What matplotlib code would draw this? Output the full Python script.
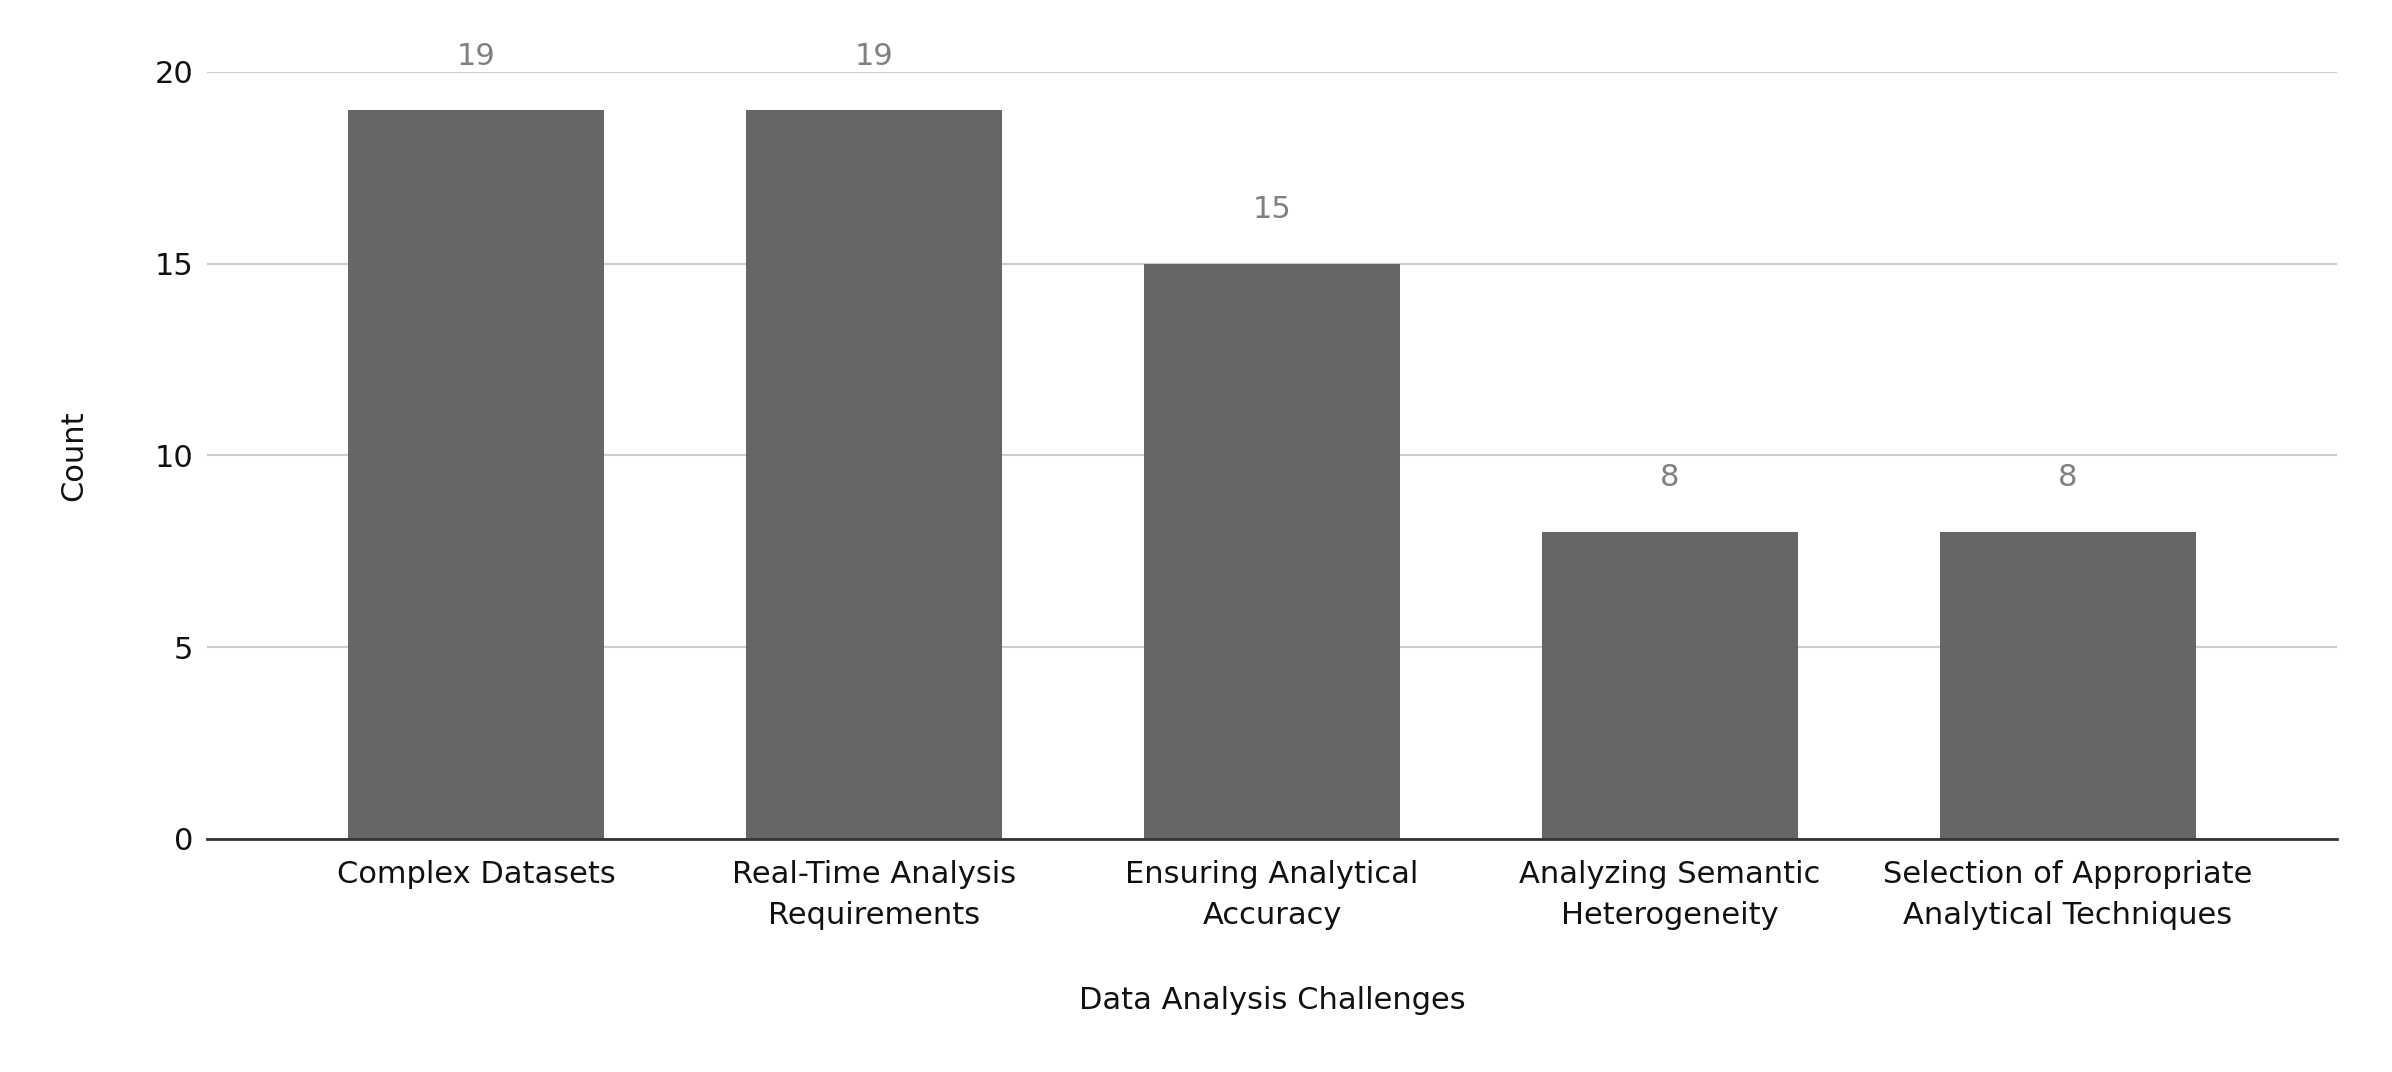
import matplotlib
matplotlib.use("Agg")
from matplotlib import pyplot

categories = [
    "Complex Datasets",
    "Real-Time Analysis\nRequirements",
    "Ensuring Analytical\nAccuracy",
    "Analyzing Semantic\nHeterogeneity",
    "Selection of Appropriate\nAnalytical Techniques",
]
counts = [19, 19, 15, 8, 8]
y_ticks = [0, 5, 10, 15, 20]

pyplot.rcParams["font.family"] = ["DejaVu Sans"]

fig = pyplot.figure(figsize=(23.92, 10.72), dpi=100)
ax = fig.add_axes([0.0867, 0.2176, 0.977 - 0.0867, 0.933 - 0.2176])

x = list(range(len(categories)))
bars = ax.bar(x, counts, width=0.644, color="#666666", zorder=2)

for bar, value in zip(bars, counts):
    ax.annotate(
        str(value),
        (bar.get_x() + bar.get_width() / 2, value),
        xytext=(0, 39),
        textcoords="offset points",
        ha="center",
        va="center",
        fontsize=22,
        color="#808080",
    )

ax.set_xlim(-0.676, 4.676)
ax.set_ylim(0, 20)
ax.set_yticks(y_ticks)
ax.set_xticks(x)
ax.set_xticklabels(categories, fontsize=22, color="#111111", linespacing=1.55)
ax.tick_params(axis="y", labelsize=22, colors="#111111", length=0, pad=10)
ax.tick_params(axis="x", length=0, pad=15)

ax.grid(axis="y", color="#cccccc", linewidth=1.5, zorder=0)
for side in ["top", "right", "left"]:
    ax.spines[side].set_visible(False)
ax.spines["bottom"].set_color("#333333")
ax.spines["bottom"].set_linewidth(2)
ax.spines["bottom"].set_zorder(3)

ax.set_xlabel("Data Analysis Challenges", fontsize=22, color="#111111", labelpad=40)
ax.set_ylabel("Count", fontsize=22, color="#111111", labelpad=48)

fig.savefig("out.png", dpi=100, facecolor="white")
